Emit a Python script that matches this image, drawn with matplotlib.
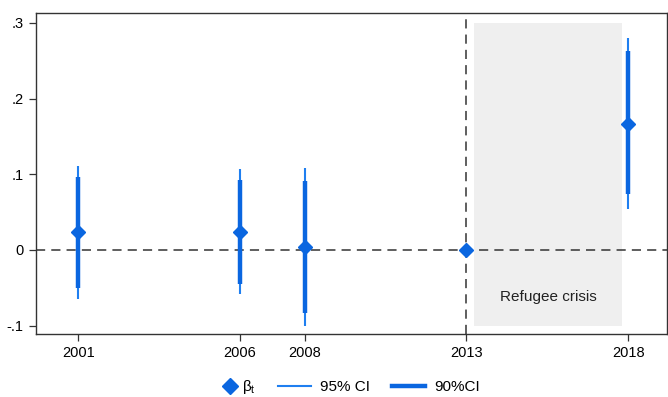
import matplotlib
matplotlib.use("Agg")
import numpy as np
import matplotlib.pyplot as plt
from matplotlib.lines import Line2D
from matplotlib.patches import Rectangle
from matplotlib.legend_handler import HandlerLine2D

plt.rcParams['font.family'] = ['Liberation Sans', 'DejaVu Sans']

years = [2001, 2006, 2008, 2013, 2018]
beta = [0.023, 0.024, 0.0035, 0.0, 0.167]
ci95_low = [-0.065, -0.0585, -0.100, None, 0.054]
ci95_high = [0.111, 0.107, 0.108, None, 0.280]
ci90_low = [-0.051, -0.045, -0.084, None, 0.0736]
ci90_high = [0.097, 0.0925, 0.091, None, 0.263]
ytick_vals = [-0.1, 0.0, 0.1, 0.2, 0.3]
ytick_labels = ['-.1', '0', '.1', '.2', '.3']
crisis_span = (2013.25, 2017.8)
crisis_label = 'Refugee crisis'

blue = '#0a66e0'
blue_thin = '#1f7ff0'


class MarkerAtRight(HandlerLine2D):
    """Legend handler that puts a lone marker near the right end of its handle box."""
    def get_xdata(self, legend, xdescent, ydescent, width, height, fontsize):
        pos = width - xdescent - 2.5
        return np.array([pos - 1.0, pos + 1.0]), np.array([pos])


fig = plt.figure(figsize=(6.68, 3.97), dpi=100)
ax = fig.add_axes([0.054, 0.159, 0.9445, 0.808])

ax.add_patch(Rectangle((crisis_span[0], -0.1), crisis_span[1] - crisis_span[0], 0.4,
                       facecolor='#efefef', edgecolor='none', zorder=0))
ax.text(sum(crisis_span) / 2, -0.062, crisis_label, ha='center', va='center',
        fontsize=11, color='#222222', zorder=1)

ax.axhline(0, color='#333333', lw=1.1, ls=(0, (6, 4)), zorder=1)
ax.axvline(2013, color='#333333', lw=1.1, ls=(0, (6, 4)), zorder=1)

for x, lo, hi in zip(years, ci95_low, ci95_high):
    if lo is not None:
        ax.plot([x, x], [lo, hi], color=blue_thin, lw=1.5, solid_capstyle='butt', zorder=2)
for x, lo, hi in zip(years, ci90_low, ci90_high):
    if lo is not None:
        ax.plot([x, x], [lo, hi], color=blue, lw=3.2, solid_capstyle='butt', zorder=3)
ax.plot(years, beta, ls='none', marker='D', ms=7.3, color=blue, mec=blue, zorder=4)

ax.set_xlim(1999.7, 2019.2)
ax.set_ylim(-0.111, 0.313)
ax.set_xticks(years)
ax.set_xticklabels([str(y) for y in years], fontsize=10.5)
ax.set_yticks(ytick_vals)
ax.set_yticklabels(ytick_labels, fontsize=10.5)
ax.tick_params(direction='out', length=5, width=0.9, color='#333333', pad=4)
for s in ax.spines.values():
    s.set_color('#333333')
    s.set_linewidth(1.0)

h_beta = Line2D([], [], ls='none', marker='D', ms=8, color=blue)
h95 = Line2D([], [], color=blue_thin, lw=1.5)
h90 = Line2D([], [], color=blue, lw=3.2)
labels = [r'$\mathregular{\beta_t}$', '95% CI', '90%CI']
fig.legend([h_beta, h95, h90], labels, loc='center', bbox_to_anchor=(0.509, 0.025),
           ncol=3, frameon=False, fontsize=11, handlelength=2.2, columnspacing=1.4,
           handletextpad=0.6, borderpad=0.2,
           handler_map={h_beta: MarkerAtRight(numpoints=1)})

fig.savefig('out.png', dpi=100)
